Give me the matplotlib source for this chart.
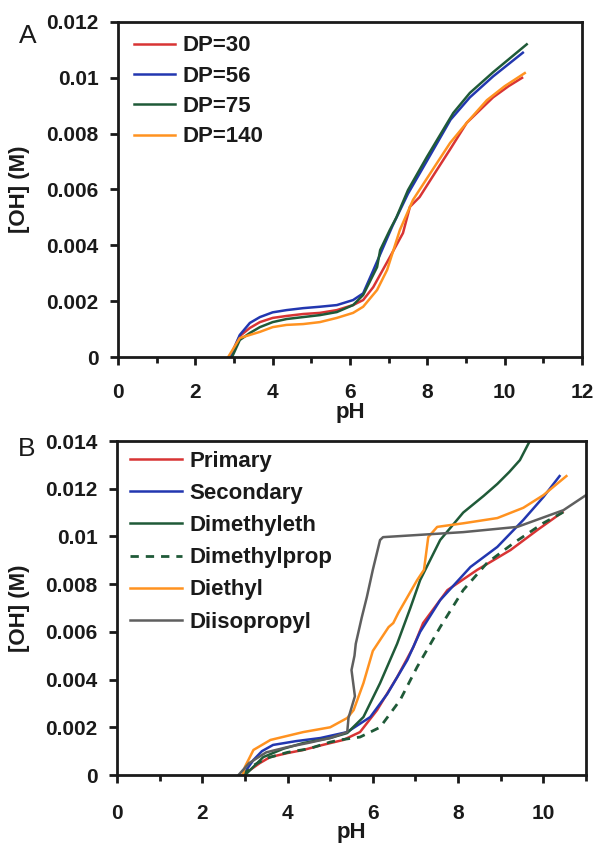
import matplotlib
matplotlib.use("Agg")
import matplotlib.pyplot as plt
import numpy as np

plt.rcParams['font.family'] = ['Liberation Sans', 'DejaVu Sans']

# ---------------- Panel A data ----------------
a_labels = ["DP=30", "DP=56", "DP=75", "DP=140"]
a_colors = ["#d83434", "#2237b0", "#1f5a38", "#ff9220"]

a30_x = [2.9, 3.15, 3.41, 3.67, 4.0, 4.36, 4.79, 5.22, 5.66, 6.08, 6.34, 6.6, 7.0, 7.37, 7.55, 7.8, 8.2, 8.58, 9.02, 9.4, 9.7, 10.1, 10.45]
a30_y = [0, 0.00075, 0.00104, 0.00125, 0.0014, 0.00147, 0.00154, 0.00158, 0.00168, 0.00186, 0.00204, 0.0025, 0.0035, 0.00444, 0.00538, 0.00573, 0.0066, 0.00742, 0.00839, 0.0089, 0.0093, 0.0097, 0.0100]

a56_x = [2.9, 3.15, 3.41, 3.67, 4.0, 4.36, 4.79, 5.22, 5.66, 6.08, 6.34, 6.6, 6.85, 7.1, 7.5, 8.0, 8.6, 9.1, 9.7, 10.47]
a56_y = [0, 0.00079, 0.00122, 0.00143, 0.0016, 0.00168, 0.00175, 0.0018, 0.00186, 0.00204, 0.00228, 0.0031, 0.0039, 0.0047, 0.00585, 0.00705, 0.0085, 0.0093, 0.01005, 0.0109]

a75_x = [2.95, 3.15, 3.41, 3.67, 4.0, 4.36, 4.79, 5.22, 5.66, 6.08, 6.34, 6.7, 6.78, 7.03, 7.2, 7.5, 7.99, 8.67, 9.1, 9.7, 10.57]
a75_y = [0, 0.00061, 0.00086, 0.00107, 0.00125, 0.00136, 0.00143, 0.0015, 0.00161, 0.00186, 0.00222, 0.00322, 0.00383, 0.00455, 0.005, 0.00598, 0.00717, 0.00874, 0.00946, 0.0102, 0.0112]

a140_x = [2.85, 3.15, 3.41, 3.67, 4.0, 4.36, 4.79, 5.22, 5.66, 6.08, 6.34, 6.7, 6.96, 7.29, 7.63, 8.25, 8.59, 9.02, 9.54, 10.0, 10.52]
a140_y = [0, 0.00068, 0.00079, 0.0009, 0.00107, 0.00115, 0.00118, 0.00125, 0.0014, 0.00158, 0.0018, 0.0024, 0.00312, 0.00455, 0.00563, 0.00695, 0.00767, 0.00839, 0.0092, 0.0097, 0.01017]

a_xticks = [0, 2, 4, 6, 8, 10, 12]
a_yticks = [0, 0.002, 0.004, 0.006, 0.008, 0.01, 0.012]
a_yticklabels = ["0", "0.002", "0.004", "0.006", "0.008", "0.01", "0.012"]

# ---------------- Panel B data ----------------
b_labels = ["Primary", "Secondary", "Dimethyleth", "Dimethylprop", "Diethyl", "Diisopropyl"]
b_colors = ["#d83434", "#2237b0", "#1f5a38", "#1f5a38", "#ff9220", "#5f5f5f"]
b_styles = ["-", "-", "-", "--", "-", "-"]

prim_x = [2.95, 3.12, 3.35, 3.59, 4.0, 4.37, 4.8, 5.31, 5.7, 6.1, 6.57, 6.95, 7.18, 7.75, 8.45, 9.23, 9.86, 10.45]
prim_y = [0, 0.00021, 0.0005, 0.00075, 0.00092, 0.00105, 0.00125, 0.00147, 0.0018, 0.00272, 0.0041, 0.00536, 0.00637, 0.00775, 0.0086, 0.00943, 0.01027, 0.01102]

sec_x = [2.95, 3.2, 3.4, 3.66, 4.2, 4.77, 5.4, 5.94, 6.34, 6.81, 7.11, 7.58, 8.29, 8.92, 9.53, 10.0, 10.38]
sec_y = [0, 0.00063, 0.001, 0.00126, 0.00142, 0.00155, 0.0018, 0.00243, 0.0034, 0.00482, 0.006, 0.00733, 0.00872, 0.00956, 0.01069, 0.01165, 0.01253]

dme_x = [3.0, 3.05, 3.43, 3.9, 4.37, 5.0, 5.4, 5.78, 6.17, 6.57, 6.88, 7.11, 7.58, 8.12, 8.6, 8.92, 9.2, 9.45, 9.67, 9.75]
dme_y = [0, 0.00008, 0.00075, 0.0011, 0.00134, 0.00155, 0.00176, 0.00243, 0.00385, 0.0055, 0.007, 0.00817, 0.00985, 0.011, 0.0117, 0.0122, 0.0127, 0.0132, 0.01396, 0.0142]

dmp_x = [2.95, 3.2, 3.5, 4.0, 4.5, 5.0, 5.23, 5.7, 6.17, 6.64, 7.04, 7.58, 8.12, 8.68, 9.3, 10.0, 10.52]
dmp_y = [0, 0.0004, 0.0007, 0.00095, 0.0011, 0.00138, 0.00147, 0.00159, 0.002, 0.00314, 0.00453, 0.0062, 0.00775, 0.00889, 0.00972, 0.01056, 0.01107]

det_x = [2.95, 3.0, 3.2, 3.6, 4.37, 5.0, 5.4, 5.55, 5.78, 6.0, 6.37, 6.48, 6.6, 7.04, 7.2, 7.3, 7.51, 8.12, 8.92, 9.53, 10.0, 10.54]
det_y = [0, 0.00034, 0.00105, 0.00147, 0.0018, 0.002, 0.00239, 0.00272, 0.00385, 0.0052, 0.0062, 0.00637, 0.0068, 0.00817, 0.0086, 0.00997, 0.0104, 0.01055, 0.01077, 0.0112, 0.01173, 0.01253]

dip_x = [2.85, 3.1, 3.5, 4.0, 4.5, 5.0, 5.4, 5.43, 5.58, 5.5, 5.57, 5.6, 5.74, 5.86, 6.0, 6.17, 6.24, 8.12, 9.39, 10.47, 11.0]
dip_y = [0, 0.0005, 0.00095, 0.00117, 0.00135, 0.00155, 0.0018, 0.0024, 0.0033, 0.0044, 0.005, 0.0055, 0.0066, 0.00746, 0.0086, 0.00985, 0.00997, 0.01018, 0.0104, 0.0111, 0.01173]

b_xticks = [0, 2, 4, 6, 8, 10]
b_yticks = [0, 0.002, 0.004, 0.006, 0.008, 0.01, 0.012, 0.014]
b_yticklabels = ["0", "0.002", "0.004", "0.006", "0.008", "0.01", "0.012", "0.014"]

# ---------------- Figure ----------------
fig = plt.figure(figsize=(5.97, 8.46), dpi=100)
axA = fig.add_axes([118/597, (846-357)/846, 464/597, 335/846])
axB = fig.add_axes([117/597, (846-775)/846, 469/597, 334/846])

FS = 15
LFS = 16
LW = 1.8
INK = "#1a1a1a"

def style_axes(ax, xpad):
    for s in ax.spines.values():
        s.set_linewidth(2.0)
        s.set_color(INK)
    ax.tick_params(axis='both', which='major', direction='out', length=6, width=2,
                   color=INK, labelsize=FS)
    ax.tick_params(axis='x', which='major', pad=xpad)
    ax.tick_params(axis='y', which='major', pad=8)
    ax.tick_params(axis='x', which='minor', direction='out', length=4, width=2, color=INK)
    for lab in ax.get_xticklabels() + ax.get_yticklabels():
        lab.set_fontweight('bold')
        lab.set_color(INK)

# Panel A
for xs, ys, c, lab in zip([a30_x, a56_x, a75_x, a140_x], [a30_y, a56_y, a75_y, a140_y], a_colors, a_labels):
    axA.plot(xs, ys, color=c, lw=LW, label=lab, solid_joinstyle='round')
axA.set_xlim(0, 12)
axA.set_ylim(0, 0.012)
axA.set_xticks(a_xticks)
axA.set_xticks(np.arange(1, 12, 2), minor=True)
axA.set_yticks(a_yticks)
axA.set_yticklabels(a_yticklabels)
style_axes(axA, 13)
axA.set_xlabel("pH", fontsize=LFS, fontweight='bold', color=INK)
axA.xaxis.set_label_coords(0.5, -0.135)
axA.set_ylabel("[OH] (M)", fontsize=LFS, fontweight='bold', color=INK)
axA.yaxis.set_label_coords(-0.19, 0.5)
legA = axA.legend(loc='upper left', bbox_to_anchor=(0.035, 0.96), frameon=False,
                  prop={'weight': 'bold', 'size': LFS}, handlelength=1.85,
                  handletextpad=0.3, labelspacing=0.42, borderaxespad=0, borderpad=0)
for t in legA.get_texts():
    t.set_color(INK)
fig.text(28/597, 1 - 36/846, "A", fontsize=19, ha='center', va='center', color=INK)

# Panel B
b_series = [(prim_x, prim_y), (sec_x, sec_y), (dme_x, dme_y), (dmp_x, dmp_y), (det_x, det_y), (dip_x, dip_y)]
for (xs, ys), c, ls, lab in zip(b_series, b_colors, b_styles, b_labels):
    if ls == '--':
        axB.plot(xs, ys, color=c, lw=2.0, ls=(0, (3, 2.5)), label=lab)
    else:
        axB.plot(xs, ys, color=c, lw=LW, label=lab, solid_joinstyle='round')
axB.set_xlim(0, 11)
axB.set_ylim(0, 0.014)
axB.set_xticks(b_xticks)
axB.set_xticks(np.arange(1, 12, 2), minor=True)
axB.set_yticks(b_yticks)
axB.set_yticklabels(b_yticklabels)
style_axes(axB, 15)
axB.set_xlabel("pH", fontsize=LFS, fontweight='bold', color=INK)
axB.xaxis.set_label_coords(0.5, -0.14)
axB.set_ylabel("[OH] (M)", fontsize=LFS, fontweight='bold', color=INK)
axB.yaxis.set_label_coords(-0.186, 0.5)
legB = axB.legend(loc='upper left', bbox_to_anchor=(0.028, 0.97), frameon=False,
                  prop={'weight': 'bold', 'size': LFS}, handlelength=2.35,
                  handletextpad=0.3, labelspacing=0.5, borderaxespad=0, borderpad=0)
for t in legB.get_texts():
    t.set_color(INK)
fig.text(27/597, 1 - 449/846, "B", fontsize=19, ha='center', va='center', color=INK)

fig.savefig("out.png", dpi=100)
